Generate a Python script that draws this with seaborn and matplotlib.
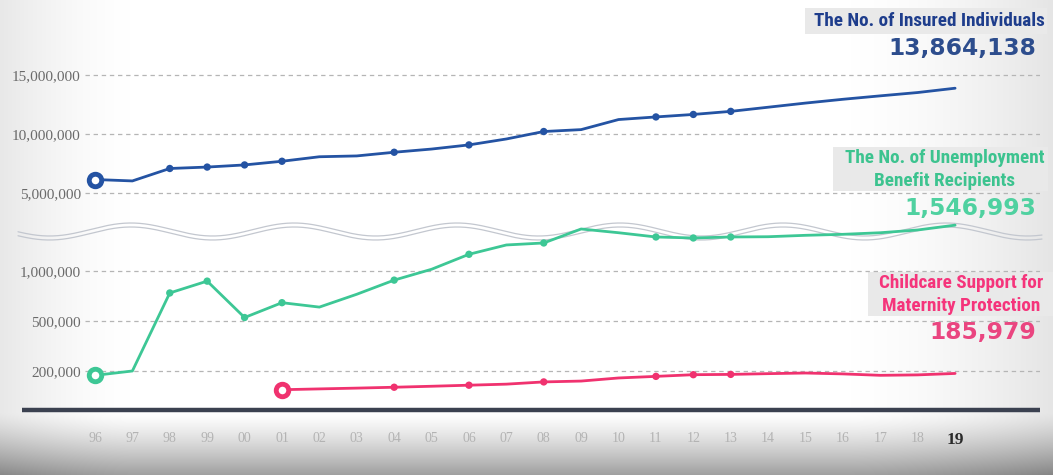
import numpy as np
import pandas as pd
import matplotlib
matplotlib.use("Agg")
import matplotlib.pyplot as plt
import matplotlib.font_manager as fm
from matplotlib.patches import Rectangle
import seaborn as sns

# ---------------------------------------------------------------- data
years = ["96", "97", "98", "99", "00", "01", "02", "03", "04", "05", "06", "07",
         "08", "09", "10", "11", "12", "13", "14", "15", "16", "17", "18", "19"]

insured = [6_160_000, 6_040_000, 7_090_000, 7_210_000, 7_390_000, 7_700_000,
           8_080_000, 8_150_000, 8_460_000, 8_730_000, 9_080_000, 9_580_000,
           10_210_000, 10_370_000, 11_220_000, 11_440_000, 11_650_000, 11_910_000,
           12_260_000, 12_610_000, 12_930_000, 13_220_000, 13_500_000, 13_864_138]

unemployment = [175_000, 200_000, 778_000, 896_000, 533_000, 681_000,
                637_000, 765_000, 906_000, 1_017_000, 1_197_000, 1_309_000,
                1_333_000, 1_501_000, 1_456_000, 1_405_000, 1_393_000, 1_405_000,
                1_408_000, 1_425_000, 1_437_000, 1_456_000, 1_489_000, 1_546_993]

childcare_years = years[5:]
childcare = [93_300, 97_900, 102_400, 107_400, 113_000, 119_000, 125_000,
             137_700, 142_600, 160_200, 169_300, 178_800, 180_600, 184_800,
             188_400, 183_400, 175_300, 177_800, 185_979]

dot_years = ["98", "99", "00", "01", "04", "06", "08", "11", "12", "13"]
dot_years_childcare = ["04", "06", "08", "11", "12", "13"]

top_ticks = [5_000_000, 10_000_000, 15_000_000]
bottom_ticks = [200_000, 500_000, 1_000_000]

insured_title = "The No. of Insured Individuals"
unemployment_title = ["The No. of Unemployment", "Benefit Recipients"]
childcare_title = ["Childcare Support for", "Maternity Protection"]

BLUE, GREEN, PINK = "#2453a3", "#3dc795", "#f0326f"

# ---------------------------------------------------------------- style
sns.set_style("white")
installed = {f.name for f in fm.fontManager.ttflist}
title_font = next(f for f in ["Liberation Sans Narrow", "Roboto Condensed",
                              "Liberation Sans", "DejaVu Sans"] if f in installed)
title_size = 13.8 if title_font in ("Liberation Sans Narrow", "Roboto Condensed") else 11.4
serif_font = next(f for f in ["Liberation Serif", "DejaVu Serif"] if f in installed)
plt.rcParams["font.family"] = ["DejaVu Sans"]

W, H = 1053, 475
fig = plt.figure(figsize=(W / 100, H / 100), dpi=100)


def frame(left, top, right, bottom):
    """Pixel box (origin top-left) -> figure fraction rect."""
    return [left / W, 1 - bottom / H, (right - left) / W, (bottom - top) / H]


# ---------------------------------------------------------------- backdrop
bg = fig.add_axes([0, 0, 1, 1], zorder=0)
bg.set_xlim(0, W)
bg.set_ylim(H, 0)
bg.axis("off")

xx = np.arange(W)[None, :]
yy = np.arange(H)[:, None]
shade = (0.09 * np.clip(1 - xx / 130, 0, 1) ** 1.5
         + 0.10 * np.clip((xx - 850) / 200, 0, 1) ** 1.5
         + 0.38 * np.clip((yy - 412) / 63, 0, 1) ** 1.3)
val = np.clip(1 - shade, 0, 1)
bg.imshow(np.dstack([val] * 3), extent=(0, W, H, 0), aspect="auto",
          interpolation="bilinear")

# wavy break between the two value ranges
wx = np.linspace(18, 1042, 800)
wy = 231.5 - 6.5 * np.cos(2 * np.pi * (wx - 131) / 163)
for off in (-2.0, 2.0):
    bg.plot(wx, wy + off, color="#c3c7cf", lw=0.9)

# series captions
for (x0, y0, w, h) in [(805, 8, 242, 26), (833, 147, 215, 44), (868, 272, 185, 44)]:
    bg.add_patch(Rectangle((x0, y0), w, h, color="#e9e9e9", lw=0))

cap = dict(ha="center", va="center", family=title_font, weight="bold", size=title_size)
num = dict(ha="right", va="center", family="DejaVu Sans", weight="bold", size=16.8)
bg.text(929, 21, insured_title, color="#1e3d8c", **cap)
bg.text(1036, 48, f"{insured[-1]:,}", color="#2d4d8d", **num)
bg.text(945, 158, unemployment_title[0], color="#3cc38f", **cap)
bg.text(945, 181, unemployment_title[1], color="#3cc38f", **cap)
bg.text(1036, 208, f"{unemployment[-1]:,}", color="#4fd1a0", **num)
bg.text(961, 283, childcare_title[0], color="#f5347b", **cap)
bg.text(961, 306, childcare_title[1], color="#f5347b", **cap)
bg.text(1036, 332, f"{childcare[-1]:,}", color="#ea4580", **num)

# ---------------------------------------------------------------- data frames
df = pd.DataFrame({"year": years, "pos": np.arange(len(years)),
                   "insured": insured, "unemployment": unemployment})
dfc = pd.DataFrame({"year": childcare_years,
                    "pos": [years.index(y) for y in childcare_years],
                    "childcare": childcare})

XLIM = (-0.267, 25.27)

# ---------------------------------------------------------------- panels
ax_top = fig.add_axes(frame(85, 10, 1040, 215), zorder=2)
ax_bot = fig.add_axes(frame(85, 205, 1040, 410), zorder=1)

# lower panel uses a stretched scale so 200k / 500k / 1M sit evenly apart
anchors_v = np.array([-1e6, 0, 2e5, 5e5, 1e6, 2e6, 5e6])
anchors_p = np.array([-4.2, -0.7, 0, 1, 2, 3.66, 8.64])


def fwd(v):
    return np.interp(np.asarray(v, dtype=float), anchors_v, anchors_p)


def inv(p):
    return np.interp(np.asarray(p, dtype=float), anchors_p, anchors_v)


ax_bot.set_yscale("function", functions=(fwd, inv))

# series lines
sns.lineplot(data=df, x="pos", y="insured", ax=ax_top, color=BLUE, lw=2.0,
             errorbar=None, zorder=3)
sns.lineplot(data=df, x="pos", y="unemployment", ax=ax_bot, color=GREEN, lw=2.0,
             errorbar=None, zorder=4)
sns.lineplot(data=dfc, x="pos", y="childcare", ax=ax_bot, color=PINK, lw=2.0,
             errorbar=None, zorder=3)

# small point markers
sns.scatterplot(data=df[df.year.isin(dot_years)], x="pos", y="insured", ax=ax_top,
                color=BLUE, s=28, edgecolor="none", legend=False, zorder=4)
sns.scatterplot(data=df[df.year.isin(dot_years)], x="pos", y="unemployment", ax=ax_bot,
                color=GREEN, s=28, edgecolor="none", legend=False, zorder=5)
sns.scatterplot(data=dfc[dfc.year.isin(dot_years_childcare)], x="pos", y="childcare",
                ax=ax_bot, color=PINK, s=28, edgecolor="none", legend=False, zorder=4)

# ring marking the first year of each series
ax_top.scatter(df.pos.iloc[0], df.insured.iloc[0], s=81, facecolor="white",
               edgecolor=BLUE, linewidths=3.5, zorder=6, clip_on=False)
ax_bot.scatter(df.pos.iloc[0], df.unemployment.iloc[0], s=81, facecolor="white",
               edgecolor=GREEN, linewidths=3.5, zorder=6, clip_on=False)
ax_bot.scatter(dfc.pos.iloc[0], dfc.childcare.iloc[0], s=81, facecolor="white",
               edgecolor=PINK, linewidths=3.5, zorder=6, clip_on=False)

for ax in (ax_top, ax_bot):
    ax.set_facecolor("none")
    for s in ax.spines.values():
        s.set_visible(False)
    ax.set_xlim(*XLIM)
    ax.yaxis.grid(True, linestyle=(0, (3.5, 3)), color="#b5b5b5", lw=0.9)
    ax.xaxis.grid(False)
    ax.tick_params(axis="both", length=0)
    ax.set_xlabel("")
    ax.set_ylabel("")

ax_top.set_ylim(3_165_000, 20_464_000)
ax_bot.set_ylim(float(inv(-0.778)), float(inv(3.31)))

# y ticks
ax_top.set_yticks(top_ticks)
ax_top.set_yticklabels([f"{v:,}" for v in top_ticks])
ax_bot.set_yticks(bottom_ticks)
ax_bot.set_yticklabels([f"{v:,}" for v in bottom_ticks])
ax_bot.yaxis.set_minor_locator(matplotlib.ticker.NullLocator())
for ax in (ax_top, ax_bot):
    ax.tick_params(axis="y", pad=3)
    for t in ax.get_yticklabels():
        t.set_family(serif_font)
        t.set_size(11)
        t.set_color("#6a6a6a")

# x ticks
ax_top.set_xticks([])
ax_bot.set_xticks(df.pos)
ax_bot.set_xticklabels(years)
ax_bot.tick_params(axis="x", pad=16)
for t in ax_bot.get_xticklabels():
    t.set_family(serif_font)
    t.set_size(10)
    t.set_color("#b3b3b3")
last = ax_bot.get_xticklabels()[-1]
last.set_weight("bold")
last.set_size(12.5)
last.set_color("#2a2a2a")

# base line
ax_bot.plot([(22 - 85) / 955, 1], [0, 0], transform=ax_bot.transAxes,
            color="#3b4150", lw=3.2, clip_on=False, solid_capstyle="butt", zorder=7)

fig.savefig("out.png", dpi=100)
